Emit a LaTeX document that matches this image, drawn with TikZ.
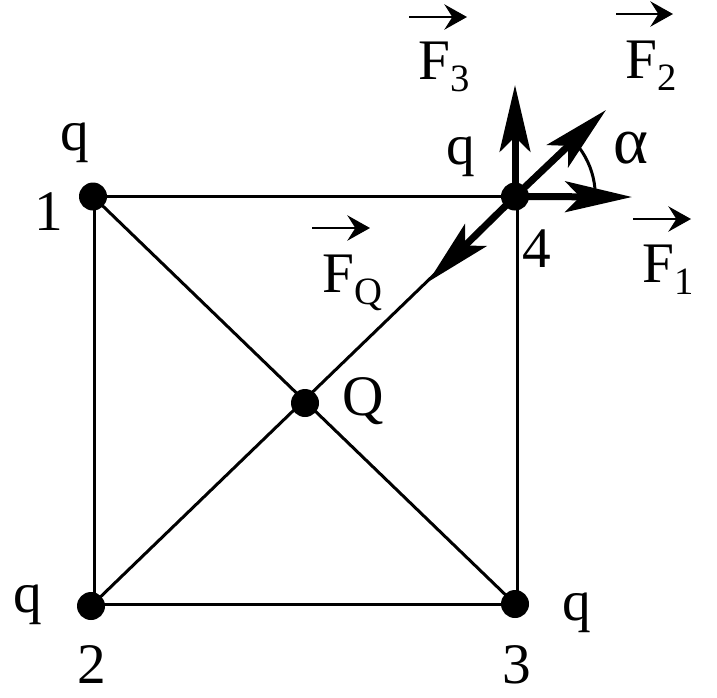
\documentclass[tikz,border=0pt]{standalone}
\usepackage{fontspec}
\usepackage{tikz}
\usetikzlibrary{arrows.meta}
\setmainfont{Liberation Serif}
\newcommand{\subl}[1]{\raisebox{-9pt}{\fontsize{29pt}{29pt}\selectfont #1}}

\begin{document}
\begin{tikzpicture}[x=0.75pt, y=-0.75pt,
  charge/.style={circle,fill=black,inner sep=0pt,minimum size=21pt},
  lab/.style={anchor=base west,inner sep=0pt,font=\fontsize{43pt}{43pt}\selectfont},
  side/.style={line width=2.25pt},
  force/.style={line width=5.25pt,-{Stealth[length=50pt,width=23pt,inset=11pt]}},
  vecbar/.style={line width=1.5pt,-{Stealth[length=17pt,width=19pt,inset=6pt]}}]
\useasboundingbox (0,0) rectangle (717,697);
% charges
\node[charge] (n1) at (93,196.5) {};
\node[charge] (n2) at (91,606) {};
\node[charge] (n3) at (515,604) {};
\node[charge] (n4) at (515,196.5) {};
\node[charge] (nQ) at (305,403) {};
% free ends of the forces
\coordinate (tipF1) at (632,197);
\coordinate (tipF2) at (606,110);
\coordinate (tipF3) at (515,85);
\coordinate (tipFQ) at (428,282);
% square and diagonals
\draw[side] (n1.center) -- (n4.center);
\draw[side] ([xshift=0.75pt]n1.center) -- ([xshift=0.75pt]n1.center |- n2.center);
\draw[side] (n2.center |- n3.center) -- (n3.center);
\draw[side] ([xshift=1.5pt]n3.center) -- ([xshift=1.5pt]n3.center |- n4.center);
\draw[side] (n1.center) -- (n3.center);
\draw[side] (n2.center) -- (n4.center);
% forces at charge 4
\draw[force] (n4.center) -- (tipF1);
\draw[force] (n4.center) -- (tipF2);
\draw[force] (n4.center) -- (tipF3);
\draw[force] (n4.center) -- (tipFQ);
\draw[side] (595,189) arc[start angle=-5, end angle=-37, radius=81];
% labels
\node[lab] (q1) at (60,150) {q};
\node[lab] (q2) at (13,612) {q};
\node[lab] (q3) at (562,620) {q};
\node[lab] (q4) at (446,164) {q};
\node[lab] (l1) at (34,230) {1};
\node[lab] (l2) at (77,683) {2};
\node[lab] (l3) at (502,683) {3};
\node[lab] (l4) at (522,267) {4};
\node[lab] (lQ) at (342,415) {Q};
\node[lab,font=\fontsize{50pt}{50pt}\selectfont] (la) at (613,163) {α};
\node[lab] (F1) at (642,282) {F\subl{1}};
\node[lab] (F2) at (625,78) {F\subl{2}};
\node[lab] (F3) at (418,79) {F\subl{3}};
\node[lab] (FQ) at (322,292) {F\subl{Q}};
% bars over the forces
\draw[vecbar] (633,219) -- (691,219);
\draw[vecbar] (616,14) -- (673,14);
\draw[vecbar] (409,17) -- (467,17);
\draw[vecbar] (312,228) -- (370,228);
\end{tikzpicture}
\end{document}
